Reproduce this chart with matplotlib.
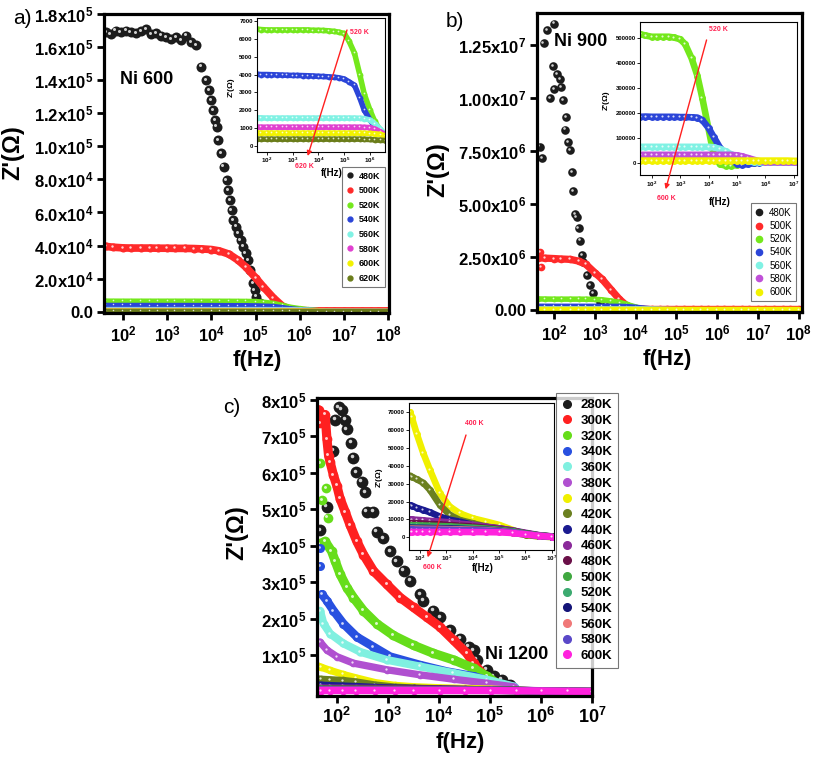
import matplotlib
matplotlib.use("Agg")
import matplotlib.pyplot as plt
from matplotlib.lines import Line2D
from matplotlib.transforms import ScaledTranslation

plt.rcParams['font.family'] = ['Liberation Sans', 'DejaVu Sans']
plt.rcParams['mathtext.fontset'] = 'custom'
plt.rcParams['mathtext.rm'] = 'Liberation Sans:bold'
plt.rcParams['mathtext.default'] = 'rm'

# ---------------- panel a : Ni 600 ----------------
a_temps = ['480K', '500K', '520K', '540K', '560K', '580K', '600K', '620K']
a_colors = ['#1c1c1c', '#ff2a2a', '#74e81c', '#2b45d8', '#80f2e4', '#e040d0', '#f2f200', '#6b7d1a']

a_f480 = [41, 52, 68, 88, 115, 149, 194, 252, 328, 426, 554, 720, 935, 1200, 1560, 2030, 2640,
          3430, 4450, 5940, 7710, 8850, 10000, 10900, 11900, 13000, 14200, 16800, 19000, 21900,
          23800, 26000, 28400, 30900, 35600, 40200, 45400, 52100, 59800, 67600, 76400, 87700,
          95500, 104000, 124000, 148000]
a_z480 = [169000, 168000, 169900, 169000, 170000, 169000, 168500, 169800, 171000, 168000, 168500,
          167000, 166000, 165000, 166000, 164000, 167000, 163000, 161000, 148200, 140100, 134100,
          128000, 122000, 115900, 111900, 103800, 95800, 87700, 79600, 73600, 67500, 61500, 55400,
          51400, 47400, 43300, 39300, 35300, 31300, 25200, 17100, 13100, 9100, 5000, 2000]

a_f = [40, 60, 100, 150, 250, 400, 600, 1e3, 1.5e3, 2.5e3, 4e3, 6e3, 1e4, 1.5e4, 2.5e4, 4e4, 6e4,
       1e5, 1.5e5, 2.5e5, 4e5, 6e5, 1e6, 1.5e6, 2.5e6, 4e6, 6e6, 1e7, 1.5e7, 2.5e7, 4e7, 6e7, 1e8]
a_z500 = [39500, 39000, 38600, 38500, 38500, 38500, 38400, 38400, 38300, 38300, 38200, 38000,
          37600, 36800, 34800, 31200, 27000, 20500, 15000, 8500, 3500, 1500, 800, 600, 500, 500,
          500, 500, 500, 500, 500, 500, 500]
a_z520 = [6550, 6520, 6500, 6500, 6500, 6500, 6500, 6500, 6500, 6500, 6500, 6480, 6480, 6470,
          6450, 6420, 6380, 6300, 5900, 5200, 4000, 2900, 2000, 1400, 850, 500, 420, 400, 400,
          380, 380, 360, 350]
a_z540 = [4020, 4000, 4000, 3990, 3980, 3970, 3960, 3950, 3950, 3940, 3930, 3920, 3900, 3890,
          3870, 3850, 3820, 3750, 3600, 3400, 2700, 2000, 1450, 1100, 800, 550, 450, 400, 380,
          360, 350, 340, 330]
a_z560 = [1580, 1570, 1560, 1560, 1560, 1560, 1560, 1560, 1560, 1560, 1560, 1560, 1560, 1560,
          1560, 1560, 1560, 1560, 1560, 1560, 1550, 1530, 1450, 1250, 950, 620, 500, 480, 460,
          450, 450, 440, 430]
a_z580 = [1060, 1050, 1050, 1050, 1050, 1050, 1050, 1050, 1050, 1050, 1050, 1050, 1050, 1050,
          1050, 1050, 1050, 1050, 1050, 1050, 1050, 1040, 1030, 950, 800, 620, 550, 530, 520,
          510, 500, 500, 500]
a_z600 = [730, 720, 720, 720, 720, 720, 720, 720, 720, 720, 720, 720, 720, 720, 720, 720, 720,
          720, 720, 720, 720, 710, 700, 680, 650, 560, 500, 480, 470, 460, 450, 450, 450]
a_z620 = [380, 380, 380, 380, 380, 380, 380, 380, 380, 380, 380, 380, 380, 380, 380, 380, 380,
          380, 380, 380, 380, 370, 360, 340, 320, 300, 260, 250, 250, 250, 240, 240, 240]

a_yticks = [0, 2e4, 4e4, 6e4, 8e4, 1e5, 1.2e5, 1.4e5, 1.6e5, 1.8e5]
a_ylabels = ['0.0', '2.0x$10^{4}$', '4.0x$10^{4}$', '6.0x$10^{4}$', '8.0x$10^{4}$',
             '1.0x$10^{5}$', '1.2x$10^{5}$', '1.4x$10^{5}$', '1.6x$10^{5}$', '1.8x$10^{5}$']
a_in_yticks = [0, 1000, 2000, 3000, 4000, 5000, 6000, 7000]

# ---------------- panel b : Ni 900 ----------------
b_temps = ['480K', '500K', '520K', '540K', '560K', '580K', '600K']
b_colors = ['#1c1c1c', '#ff2a2a', '#74e81c', '#2b45d8', '#80f2e4', '#c050d8', '#f2f200']

b_f480 = [44, 50, 55, 66, 100, 79, 93, 100, 117, 141, 145, 162, 186, 195, 224, 245, 269, 288,
          324, 355, 398, 437, 479, 525, 631, 759, 912, 1350, 1950, 3000]
b_z480 = [7.7e6, 7.17e6, 12.6e6, 13.2e6, 13.5e6, 10.0e6, 11.5e6, 10.4e6, 11.1e6, 10.9e6, 10.5e6,
          9.9e6, 8.5e6, 9.1e6, 7.9e6, 7.55e6, 6.5e6, 5.6e6, 4.5e6, 4.36e6, 3.85e6, 3.27e6, 2.6e6,
          2.26e6, 1.64e6, 1.17e6, 0.78e6, 0.39e6, 0.15e6, 0.05e6]
b_f500_extra = [45, 48]
b_z500_extra = [2.75e6, 2.0e6]

b_f = [40, 60, 100, 150, 250, 400, 600, 1e3, 1.5e3, 2.5e3, 4e3, 6e3, 1e4, 1.5e4, 2.5e4, 4e4, 6e4,
       1e5, 1.5e5, 2.5e5, 4e5, 6e5, 1e6, 1.5e6, 2.5e6, 4e6, 6e6, 1e7, 1.5e7, 2.5e7, 4e7, 6e7, 1e8]
b_z500 = [2450000, 2440000, 2420000, 2400000, 2380000, 2300000, 2150000, 1750000, 1450000,
          950000, 500000, 200000, 60000, 30000, 20000, 20000, 20000, 20000, 20000, 20000, 20000,
          20000, 20000, 20000, 20000, 20000, 20000, 20000, 20000, 20000, 20000, 20000, 20000]
b_z520 = [515000, 510000, 505000, 505000, 505000, 505000, 502000, 495000, 475000, 420000, 350000,
          260000, 135000, 35000, -5000, -10000, -10000, -8000, -3000, 0, 2000, 3000, 3000, 3000,
          3000, 3000, 3000, 3000, 3000, 3000, 3000, 3000, 3000]
b_z540 = [185000, 186000, 185000, 185000, 185000, 185000, 185000, 184000, 184000, 183000, 182000,
          172000, 140000, 105000, 62000, 30000, 12000, -2000, -6000, -4000, 0, 2000, 3000, 3000,
          3000, 3000, 3000, 3000, 3000, 3000, 3000, 3000, 3000]
b_z560 = [65000, 65000, 65000, 65000, 65000, 65000, 65000, 65000, 65000, 65000, 65000, 65000,
          65000, 63000, 57000, 47000, 36000, 23000, 13000, 7000, 4000, 3000, 3000, 3000, 3000,
          3000, 3000, 3000, 3000, 3000, 3000, 3000, 3000]
b_z580 = [33000, 33000, 33000, 33000, 33000, 33000, 33000, 33000, 33000, 33000, 33000, 33000,
          33000, 33000, 33000, 33000, 33000, 31000, 27000, 20000, 13000, 8000, 5000, 4000, 4000,
          4000, 4000, 4000, 4000, 4000, 4000, 4000, 4000]
b_z600 = [10000, 10000, 10000, 10000, 10000, 10000, 10000, 10000, 10000, 10000, 10000, 10000,
          10000, 10000, 10000, 10000, 10000, 10000, 10000, 10000, 10000, 10000, 10000, 10000,
          10000, 10000, 10000, 9000, 9000, 8500, 8500, 8000, 8000]

b_yticks = [0, 2.5e6, 5e6, 7.5e6, 1e7, 1.25e7]
b_ylabels = ['0.00', '2.50x$10^{6}$', '5.00x$10^{6}$', '7.50x$10^{6}$', '1.00x$10^{7}$',
             '1.25x$10^{7}$']
b_in_yticks = [0, 100000, 200000, 300000, 400000, 500000]

# ---------------- panel c : Ni 1200 ----------------
c_temps = ['280K', '300K', '320K', '340K', '360K', '380K', '400K', '420K', '440K', '460K',
           '480K', '500K', '520K', '540K', '560K', '580K', '600K']
c_colors = ['#1c1c1c', '#ff2020', '#66dd1a', '#2850e0', '#80f0e0', '#b050d0', '#f0f000',
            '#6b8020', '#1a1a90', '#8a2a9a', '#6a1048', '#40a840', '#3caa70', '#141478',
            '#f07878', '#5a48c8', '#ff22dd']

c_f280 = [47, 64, 86, 93, 108, 125, 146, 157, 191, 212, 239, 309, 360, 387, 523, 609, 822, 1110,
          1500, 2030, 2740, 4300, 5000, 7850, 10600, 16700, 26200, 38200, 47900, 55600, 87300,
          118000, 172000, 250000]
c_z280 = [4.43e5, 5.07e5, 6.6e5, 7.46e5, 7.8e5, 7.73e5, 7.46e5, 7.19e5, 6.83e5, 6.42e5, 6.02e5,
          5.75e5, 5.47e5, 4.93e5, 4.93e5, 4.39e5, 4.21e5, 3.85e5, 3.58e5, 3.31e5, 3.04e5, 2.67e5,
          2.49e5, 2.22e5, 2.04e5, 1.68e5, 1.45e5, 1.23e5, 1.14e5, 0.87e5, 0.6e5, 0.42e5, 0.33e5,
          0.19e5]
c_f300 = [44, 47, 59, 64, 69, 74, 86, 100, 116, 146, 182, 247, 333, 523, 956, 1750, 3190, 5820,
          10600, 19400, 35400, 47900, 75200, 118000, 185000]
c_z300 = [7.73e5, 7.37e5, 7.6e5, 6.92e5, 6.47e5, 6.29e5, 5.93e5, 5.65e5, 5.29e5, 4.93e5, 4.57e5,
          4.12e5, 3.76e5, 3.31e5, 2.94e5, 2.58e5, 2.31e5, 2.04e5, 1.77e5, 1.41e5, 1.05e5, 0.78e5,
          0.46e5, 0.23e5, 0.10e5]
c_f320 = [45, 59, 79, 93, 116, 158, 212, 333, 609, 1290, 3190, 7850, 19400, 47900, 87300,
          136000, 210000]
c_z320 = [4.05e5, 4.12e5, 3.85e5, 3.58e5, 3.22e5, 2.85e5, 2.58e5, 2.22e5, 1.86e5, 1.54e5,
          1.27e5, 1.05e5, 0.87e5, 0.64e5, 0.42e5, 0.23e5, 0.13e5]
c_f320_extra = [47, 51, 62, 66]
c_z320_extra = [6.27e5, 5.25e5, 5.58e5, 4.77e5]
c_f340 = [51, 64, 86, 135, 247, 523, 1110, 4300, 14500, 47900, 136000, 300000]
c_z340 = [2.67e5, 2.49e5, 2.22e5, 1.86e5, 1.5e5, 1.23e5, 0.96e5, 0.73e5, 0.55e5, 0.42e5,
          0.23e5, 0.13e5]
c_f340_extra = [47, 47]
c_z340_extra = [3.94e5, 3.44e5]
c_f360 = [47, 55, 74, 135, 288, 956, 4300, 19400, 87300, 300000]
c_z360 = [2.22e5, 1.86e5, 1.59e5, 1.32e5, 1.09e5, 0.87e5, 0.69e5, 0.51e5, 0.33e5, 0.14e5]
c_f380 = [47, 64, 100, 212, 956, 4300, 19400, 87300, 300000]
c_z380 = [1.36e5, 1.14e5, 0.96e5, 0.78e5, 0.6e5, 0.46e5, 0.34e5, 0.23e5, 0.13e5]

c_hf = [43, 48, 75, 134, 239, 570, 1360, 3240, 10400, 33000, 105000, 340000, 1070000, 3400000,
        10000000]
c_z400 = [70000, 67500, 58000, 47000, 37700, 24600, 17200, 13400, 10600, 8800, 6900, 4100, 1300,
          500, 200]
c_z420 = [34500, 34000, 32500, 30500, 26500, 18100, 12500, 9700, 7800, 6000, 4100, 2600, 1300,
          500, 200]
c_z440 = [18000, 17800, 16500, 15300, 14000, 11600, 9800, 8800, 6900, 5800, 5000, 3800, 2200,
          1000, 400]
c_z460 = [10000, 10000, 9800, 9500, 9200, 8800, 8400, 7600, 7000, 6000, 5000, 3800, 2500, 1200,
          500]
c_z480 = [8000, 8000, 7900, 7700, 7500, 7200, 6900, 6500, 6000, 5300, 4500, 3500, 2200, 1100, 500]
c_z500 = [6800, 6800, 6700, 6600, 6500, 6300, 6100, 5800, 5400, 4900, 4200, 3300, 2100, 1000, 450]
c_z520 = [6000, 6000, 5900, 5800, 5700, 5600, 5400, 5200, 4900, 4500, 3900, 3100, 2000, 950, 420]
c_z540 = [5400, 5400, 5300, 5300, 5200, 5100, 5000, 4800, 4500, 4200, 3700, 2900, 1900, 900, 400]
c_z560 = [4900, 4900, 4850, 4800, 4750, 4700, 4600, 4450, 4250, 4000, 3500, 2800, 1800, 850, 380]
c_z580 = [4400, 4400, 4350, 4300, 4300, 4250, 4200, 4100, 3950, 3750, 3300, 2700, 1700, 800, 350]
c_z600 = [3000, 3000, 3000, 3000, 3000, 3000, 3000, 3000, 2950, 2900, 2800, 2400, 1600, 800, 300]

c_yticks = [1e5, 2e5, 3e5, 4e5, 5e5, 6e5, 7e5, 8e5]
c_ylabels = ['1x$10^{5}$', '2x$10^{5}$', '3x$10^{5}$', '4x$10^{5}$', '5x$10^{5}$', '6x$10^{5}$',
             '7x$10^{5}$', '8x$10^{5}$']
c_in_yticks = [0, 10000, 20000, 30000, 40000, 50000, 60000, 70000]

fig = plt.figure(figsize=(8.13, 7.58), dpi=100)


def balls(ax, f, z, color, ms, band=True, zo=2):
    # sphere-like markers: colored dot + small white highlight, optional band behind
    if band:
        ax.plot(f, z, '-', color=color, lw=ms * 0.95, zorder=zo, solid_joinstyle='round',
                solid_capstyle='round')
    ax.plot(f, z, 'o', ls='none', color=color, ms=ms, mec='none', zorder=zo)
    off = ax.transData + ScaledTranslation(-ms * 0.13 / 72, ms * 0.13 / 72, fig.dpi_scale_trans)
    ax.plot(f, z, 'o', ls='none', color='white', ms=ms * 0.3, mew=0, alpha=0.8, transform=off,
            zorder=zo)


def style_main(ax, xticks, xlabels, yticks, ylabels, xfs=12, yfs=12):
    ax.set_xscale('log')
    ax.set_xticks(xticks)
    ax.set_xticklabels(xlabels, fontsize=xfs, fontweight='bold')
    ax.minorticks_off()
    ax.set_yticks(yticks)
    ax.set_yticklabels(ylabels, fontsize=yfs, fontweight='bold')
    for s in ax.spines.values():
        s.set_linewidth(2.3)
    ax.tick_params(direction='out', length=5, width=2, pad=3)
    ax.set_ylabel("Z'(Ω)", fontsize=17, fontweight='bold')
    ax.set_xlabel('f(Hz)', fontsize=16, fontweight='bold')


def style_inset(ax, xticks, xlabels, yticks):
    ax.set_xscale('log')
    ax.set_xticks(xticks)
    ax.set_xticklabels(xlabels, fontsize=4.5, fontweight='bold')
    ax.minorticks_off()
    ax.set_yticks(yticks)
    ax.set_yticklabels([str(v) for v in yticks], fontsize=4.3, fontweight='bold')
    for s in ax.spines.values():
        s.set_linewidth(0.8)
    ax.tick_params(direction='out', length=2, width=0.6, pad=1)
    ax.set_ylabel("Z'(Ω)", fontsize=6, fontweight='bold')
    ax.set_xlabel('f(Hz)', fontsize=7, fontweight='bold')


def arrow(ax, tail, head, top_txt, top_pos, bot_txt, bot_pos):
    ax.annotate('', xy=head, xytext=tail, xycoords='axes fraction', textcoords='axes fraction',
                arrowprops=dict(arrowstyle='-|>', color='#ff2020', lw=1.0, mutation_scale=7),
                annotation_clip=False, zorder=10)
    ax.text(*top_pos, top_txt, transform=ax.transAxes, color='#ff2050', fontsize=5,
            fontweight='bold', ha='center', va='center', clip_on=False)
    ax.text(*bot_pos, bot_txt, transform=ax.transAxes, color='#ff2050', fontsize=5,
            fontweight='bold', ha='center', va='center', clip_on=False)


def make_legend(labels, colors, anchor, fs, ms, weight, spacing, tpad=0.5):
    handles = [Line2D([], [], marker='o', ls='none', color=c, ms=ms) for c in colors]
    leg = fig.legend(handles, labels, loc='upper left', bbox_to_anchor=anchor,
                     frameon=True, fancybox=False, edgecolor='#555555', handlelength=0.8,
                     handletextpad=tpad, labelspacing=spacing, borderpad=0.45,
                     prop={'weight': weight, 'size': fs})
    leg.get_frame().set_linewidth(0.8)
    return leg


main_xt = [1e2, 1e3, 1e4, 1e5, 1e6, 1e7, 1e8]
main_xl = ['$10^{2}$', '$10^{3}$', '$10^{4}$', '$10^{5}$', '$10^{6}$', '$10^{7}$', '$10^{8}$']

# ---------- a ----------
ax = fig.add_axes([0.128, 0.587, 0.3506, 0.3945])
balls(ax, a_f480, a_z480, a_colors[0], 7.2, band=False)
a_series = [a_z500, a_z520, a_z540, a_z560, a_z580, a_z600, a_z620]
a_ms = [5.8, 3.8, 3.6, 3.4, 3.4, 3.4, 3.6]
for z, c, m in zip(a_series, a_colors[1:], a_ms):
    balls(ax, a_f, z, c, m)
ax.set_xlim(37, 1.05e8)
ax.set_ylim(-800, 1.8e5)
style_main(ax, main_xt, main_xl, a_yticks, a_ylabels)
ax.yaxis.set_label_coords(-0.28, 0.535)
ax.xaxis.set_label_coords(0.537, -0.125)
ax.text(0.056, 0.78, 'Ni 600', transform=ax.transAxes, fontsize=13, fontweight='bold',
        va='center')

ia = fig.add_axes([0.316, 0.7995, 0.1575, 0.1768])
for z, c in zip(a_series[1:], a_colors[2:]):
    balls(ia, a_f, z, c, 4.2)
ia.set_xlim(41, 3.8e6)
ia.set_ylim(-340, 7170)
style_inset(ia, [1e2, 1e3, 1e4, 1e5, 1e6], main_xl[:5], a_in_yticks)
ia.yaxis.set_label_coords(-0.17, 0.48)
ia.xaxis.set_label_coords(0.586, -0.12)
arrow(ia, (0.71, 0.93), (0.39, -0.05), '520 K', (0.8, 0.89), '620 K', (0.37, -0.11))
make_legend(a_temps, a_colors, (0.4155, 0.785), 6.5, 3.5, 'bold', 0.62, tpad=0.6)

# ---------- b ----------
bx = fig.add_axes([0.6605, 0.5884, 0.326, 0.3945])
balls(bx, b_f480, b_z480, b_colors[0], 6.2, band=False)
balls(bx, b_f500_extra, b_z500_extra, b_colors[1], 5.5, band=False)
b_series = [b_z500, b_z520, b_z540, b_z560, b_z580, b_z600]
b_ms = [5.5, 4.2, 3.6, 3.6, 3.6, 4.5]
for z, c, m in zip(b_series, b_colors[1:], b_ms):
    balls(bx, b_f, z, c, m)
bx.set_xlim(38, 1.2e8)
bx.set_ylim(-1e5, 1.4e7)
style_main(bx, main_xt, main_xl, b_yticks, b_ylabels)
bx.yaxis.set_label_coords(-0.33, 0.475)
bx.xaxis.set_label_coords(0.49, -0.125)
bx.text(0.065, 0.905, 'Ni 900', transform=bx.transAxes, fontsize=13, fontweight='bold',
        va='center')

ib = fig.add_axes([0.787, 0.769, 0.193, 0.202])
for z, c in zip(b_series[1:], b_colors[2:]):
    balls(ib, b_f, z, c, 5.0)
ib.set_xlim(38, 1.26e7)
ib.set_ylim(-48000, 564000)
style_inset(ib, [1e2, 1e3, 1e4, 1e5, 1e6, 1e7], main_xl[:6], b_in_yticks)
ib.yaxis.set_label_coords(-0.19, 0.49)
ib.xaxis.set_label_coords(0.51, -0.14)
arrow(ib, (0.43, 0.90), (0.16, -0.11), '520 K', (0.5, 0.95), '600 K', (0.17, -0.15))
make_legend(b_temps, b_colors, (0.918, 0.738), 7, 4.5, 'normal', 0.33, tpad=0.6)

# ---------- c ----------
cx = fig.add_axes([0.390, 0.0818, 0.338, 0.393])
balls(cx, c_f280, c_z280, c_colors[0], 8.5, band=False)
balls(cx, c_f300, c_z300, c_colors[1], 7.0)
balls(cx, c_f320_extra, c_z320_extra, c_colors[2], 7.0, band=False)
balls(cx, c_f320, c_z320, c_colors[2], 7.0)
balls(cx, c_f340_extra, c_z340_extra, c_colors[3], 6.5, band=False)
balls(cx, c_f340, c_z340, c_colors[3], 6.5)
balls(cx, c_f360, c_z360, c_colors[4], 6.0)
balls(cx, c_f380, c_z380, c_colors[5], 5.5)
c_hi = [c_z400, c_z420, c_z440, c_z460, c_z480, c_z500, c_z520, c_z540, c_z560, c_z580, c_z600]
for z, c in zip(c_hi, c_colors[6:]):
    balls(cx, c_hf, z, c, 5.5)
cx.set_xlim(41, 1e7)
cx.set_ylim(-1.2e4, 8.05e5)
style_main(cx, main_xt[:6], main_xl[:6], c_yticks, c_ylabels, xfs=13)
cx.yaxis.set_label_coords(-0.25, 0.547)
cx.xaxis.set_label_coords(0.52, -0.12)
cx.text(0.61, 0.14, 'Ni 1200', transform=cx.transAxes, fontsize=13, fontweight='bold',
        va='center')

ic = fig.add_axes([0.503, 0.2744, 0.178, 0.194])
for z, c in zip(c_hi, c_colors[6:]):
    balls(ic, c_hf, z, c, 5.0)
ic.set_xlim(38, 1.2e7)
ic.set_ylim(-7100, 75200)
style_inset(ic, [1e2, 1e3, 1e4, 1e5, 1e6, 1e7], main_xl[:6], c_in_yticks)
ic.yaxis.set_label_coords(-0.18, 0.497)
ic.xaxis.set_label_coords(0.51, -0.09)
arrow(ic, (0.40, 0.80), (0.124, -0.068), '400 K', (0.45, 0.86), '600 K', (0.165, -0.12))
make_legend(c_temps, c_colors, (0.676, 0.49), 9.5, 5.5, 'bold', 0.26, tpad=0.6)

# panel letters
fig.text(0.027, 0.976, 'a)', fontsize=15, va='center', ha='center')
fig.text(0.56, 0.971, 'b)', fontsize=15, va='center', ha='center')
fig.text(0.285, 0.462, 'c)', fontsize=15, va='center', ha='center')

fig.savefig('out.png', dpi=100)
